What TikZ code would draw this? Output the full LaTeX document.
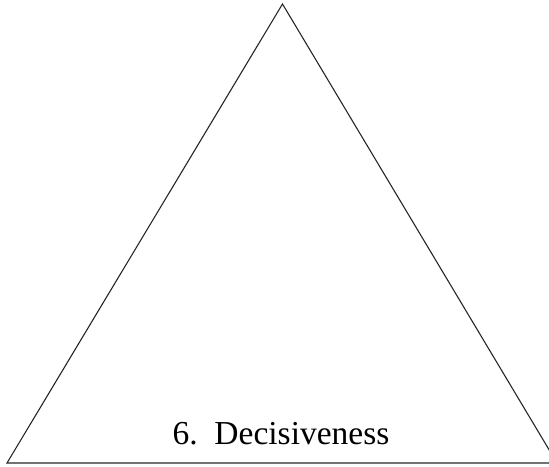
\documentclass[tikz,border=0pt]{standalone}
\usepackage{fontspec}
\setmainfont{Liberation Serif}
\begin{document}
\begin{tikzpicture}[x=1pt,y=1pt,
  edge/.style={draw=black!85, line width=1.1pt, line join=miter},
  lbl/.style={font=\fontsize{33.5}{40}\selectfont, anchor=base, inner sep=0pt}]
\useasboundingbox (0,0) rectangle (549,466);
\clip (0,0) rectangle (549,466);
\coordinate (top) at (282.5,462);
\coordinate (bl) at (7,3);
\coordinate (br) at (557,3);
\draw[edge] (top) -- (bl) -- (br) -- cycle;
\node[lbl] (t) at (281,21) {6.\ \ Decisiveness};
\end{tikzpicture}
\end{document}
